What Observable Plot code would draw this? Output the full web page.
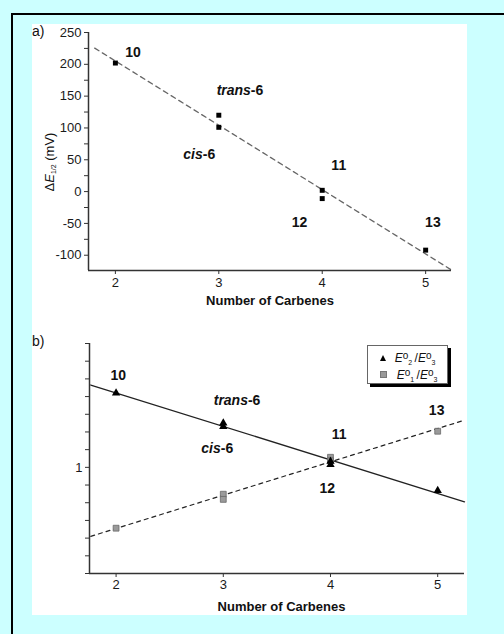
<!DOCTYPE html>
<html><head><meta charset="utf-8">
<script src="https://cdn.jsdelivr.net/npm/d3@7"></script>
<script src="https://cdn.jsdelivr.net/npm/@observablehq/plot@0.6"></script>
<style>
body{margin:0;}
#page{position:relative;width:504px;height:634px;background:#ccffff;overflow:hidden;font-family:"Liberation Sans",Arial,sans-serif;color:#111;}
#border{position:absolute;left:11px;top:13px;width:700px;height:800px;border-left:2px solid #000;border-top:2px solid #000;}
#panel{position:absolute;left:32px;top:24px;width:435px;height:591px;background:#fff;}
.plot{position:absolute;left:32px;}
.plot svg{font-family:"Liberation Sans",Arial,sans-serif !important;font-size:13px !important;}
.tag{position:absolute;font-size:14px;line-height:14px;}
#ylab{position:absolute;left:49.3px;top:161.7px;transform:translate(-50%,-50%) rotate(-90deg);white-space:nowrap;font-size:13px;}
#ylab sub{font-size:7px;vertical-align:-2px;}
#legend{position:absolute;left:366.7px;top:344.7px;width:79px;height:37px;background:#fff;border:1px solid #666;box-shadow:3px 3px 0 #000;font-size:12px;}
#legend .row{position:absolute;left:12px;height:14px;line-height:14px;white-space:nowrap;}
#legend sup{font-size:10px;vertical-align:3px;}
#legend sub{font-size:7px;vertical-align:-3px;}
.tri{display:inline-block;width:0;height:0;border-left:3.5px solid transparent;border-right:3.5px solid transparent;border-bottom:6px solid #000;margin-right:9px;vertical-align:1px;}
.sq{display:inline-block;width:5px;height:5px;background:#999;border:0.5px solid #777;margin-right:10px;vertical-align:1px;}
</style></head>
<body>
<div id="page">
  <div id="border"></div>
  <div id="panel"></div>
  <div class="tag" style="left:32px;top:24px;">a)</div>
  <div class="tag" style="left:32px;top:334px;">b)</div>
  <div id="ylab">Δ<i>E</i><sub>1/2</sub> (mV)</div>
  <div id="plotA" class="plot" style="top:24px;"></div>
  <div id="plotB" class="plot" style="top:320px;"></div>
  <div id="legend">
    <div class="row" style="top:3px;"><span class="tri"></span><i>E</i><sup>o</sup><sub>2</sub>&thinsp;/<i>E</i><sup>o</sup><sub>3</sub></div>
    <div class="row" style="top:20px;"><span class="sq"></span><i>E</i><sup>o</sup><sub>1</sub>&thinsp;/<i>E</i><sup>o</sup><sub>3</sub></div>
  </div>
</div>
<script>
// ---------- data ----------
const xTicks = [2, 3, 4, 5];
// panel a
const carbenesA = [2, 3, 3, 4, 4, 5];
const deltaE = [202, 120, 101, 2, -11, -92];
const yTicksA = [-100, -50, 0, 50, 100, 150, 200, 250];
const yMinorA = [-75, -25, 25, 75, 125, 175, 225];
const fitRangeA = [1.8, 5.25];
const numLabels = ["10", "11", "12", "13"];
const numLabelXA = [2.17, 4.16, 3.78, 5.07];
const numLabelYA = [219, 41, -48, -48];
const isoLabels = ["trans", "cis"];
const isoLabelXA = [3.31, 2.845];
const isoLabelYA = [159, 58];
// panel b
const carbenesB = [2, 3, 3, 4, 4, 5];
const ratio23 = [2.63, 1.78, 1.70, 1.08, 1.035, 0.74];
const ratio13 = [0.453, 0.705, 0.659, 1.14, 1.09, 1.60];
const yTicksB = [0.2512, 0.3162, 0.3981, 0.5012, 0.631, 0.7943, 1, 1.259, 1.585, 1.995, 2.512, 3.162, 3.981, 5.012];
const fitRangeB = [1.764, 5.25];
const numLabelXB = [2.02, 4.08, 3.97, 4.99];
const numLabelYB = [3.30, 1.53, 0.76, 2.10];
const isoLabelXB = [3.23, 2.976];
const isoLabelYB = [2.40, 1.27];

// ---------- helpers ----------
function fit(xs, ys) {
  const mx = d3.mean(xs), my = d3.mean(ys);
  const b = d3.sum(xs, (x, i) => (x - mx) * (ys[i] - my)) / d3.sum(xs, x => (x - mx) ** 2);
  return x => my + b * (x - mx);
}
const FONT = "Liberation Sans, Arial, sans-serif";
const axisStroke = "#333";
const fmt = d => String(d);

// ---------- panel a ----------
const ptsA = carbenesA.map((x, i) => ({x, y: deltaE[i]}));
const fA = fit(carbenesA, deltaE);
const lineA = fitRangeA.map(x => ({x, y: fA(x)}));
const numA = numLabels.map((t, i) => ({t, x: numLabelXA[i], y: numLabelYA[i]}));
const isoA = isoLabels.map((t, i) => ({t, x: isoLabelXA[i], y: isoLabelYA[i]}));
const domXA = [1.74, 5.25], domYA = [-124, 250];

const plotA = Plot.plot({
  width: 435, height: 290,
  marginLeft: 56, marginRight: 16, marginTop: 8, marginBottom: 44,
  x: {domain: domXA, label: null},
  y: {domain: domYA, label: null},
  style: {fontFamily: FONT, fontSize: "13px", color: "#1a1a1a", background: "transparent", overflow: "visible"},
  marks: [
    Plot.line(lineA, {x: "x", y: "y", stroke: "#666", strokeWidth: 1.3, strokeDasharray: "5,4"}),
    Plot.ruleX([domXA[0]], {stroke: axisStroke, strokeWidth: 1.5}),
    Plot.ruleY([domYA[0]], {stroke: axisStroke, strokeWidth: 1.5}),
    Plot.axisX(xTicks, {tickSize: 4, tickPadding: 3, label: null, stroke: axisStroke, tickFormat: fmt, fontSize: 13}),
    Plot.axisY(yTicksA, {tickSize: 4, tickPadding: 3, label: null, stroke: axisStroke, tickFormat: fmt, fontSize: 13}),
    Plot.axisY(yMinorA, {tickSize: 4, tickFormat: () => "", label: null, stroke: axisStroke}),
    Plot.dot(ptsA, {x: "x", y: "y", symbol: "square", r: 2.8, fill: "#000"}),
    Plot.text(numA, {x: "x", y: "y", text: "t", fontWeight: "bold", fontSize: 14, fill: "#111"}),
    Plot.text(isoA, {x: "x", y: "y", text: "t", fontWeight: "bold", fontStyle: "italic", fontSize: 14, textAnchor: "end", fill: "#111"}),
    Plot.text(isoA, {x: "x", y: "y", text: () => "-6", fontWeight: "bold", fontSize: 14, textAnchor: "start", fill: "#111"}),
    Plot.text(["Number of Carbenes"], {frameAnchor: "bottom", dy: 34, fontWeight: "bold", fontSize: 13, fill: "#111"})
  ]
});
document.getElementById("plotA").append(plotA);

// ---------- panel b ----------
const tri = carbenesB.map((x, i) => ({x, y: ratio23[i]}));
const sq = carbenesB.map((x, i) => ({x, y: ratio13[i]}));
const f23 = fit(carbenesB, ratio23.map(Math.log10));
const f13 = fit(carbenesB, ratio13.map(Math.log10));
const line23 = fitRangeB.map(x => ({x, y: 10 ** f23(x)}));
const line13 = fitRangeB.map(x => ({x, y: 10 ** f13(x)}));
const numB = numLabels.map((t, i) => ({t, x: numLabelXB[i], y: numLabelYB[i]}));
const isoB = isoLabels.map((t, i) => ({t, x: isoLabelXB[i], y: isoLabelYB[i]}));
const domXB = [1.752, 5.25], domYB = [yTicksB[0], yTicksB[yTicksB.length - 1]];

const plotB = Plot.plot({
  width: 435, height: 295,
  marginLeft: 57, marginRight: 3, marginTop: 23, marginBottom: 42,
  x: {domain: domXB, label: null},
  y: {type: "log", domain: domYB, label: null},
  style: {fontFamily: FONT, fontSize: "13px", color: "#1a1a1a", background: "transparent", overflow: "visible"},
  marks: [
    Plot.line(line13, {x: "x", y: "y", stroke: "#222", strokeWidth: 1.2, strokeDasharray: "4,4"}),
    Plot.line(line23, {x: "x", y: "y", stroke: "#222", strokeWidth: 1.3}),
    Plot.ruleX([domXB[0]], {stroke: axisStroke, strokeWidth: 1.5}),
    Plot.ruleY([domYB[0]], {stroke: axisStroke, strokeWidth: 1.5}),
    Plot.axisX(xTicks, {tickSize: 4, tickPadding: 2, label: null, stroke: axisStroke, tickFormat: fmt, fontSize: 13}),
    Plot.axisY(yTicksB, {tickSize: 4, tickPadding: 3, label: null, stroke: axisStroke, tickFormat: d => d === 1 ? "1" : "", fontSize: 13}),
    Plot.dot(sq, {x: "x", y: "y", symbol: "square", r: 3.3, fill: "#9a9a9a", stroke: "#6a6a6a", strokeWidth: 0.8}),
    Plot.dot(tri, {x: "x", y: "y", symbol: "triangle", r: 3.1, fill: "#000"}),
    Plot.text(numB, {x: "x", y: "y", text: "t", fontWeight: "bold", fontSize: 14, fill: "#111"}),
    Plot.text(isoB, {x: "x", y: "y", text: "t", fontWeight: "bold", fontStyle: "italic", fontSize: 14, textAnchor: "end", fill: "#111"}),
    Plot.text(isoB, {x: "x", y: "y", text: () => "-6", fontWeight: "bold", fontSize: 14, textAnchor: "start", fill: "#111"}),
    Plot.text(["Number of Carbenes"], {frameAnchor: "bottom", dy: 37, dx: 4.5, fontWeight: "bold", fontSize: 13, fill: "#111"})
  ]
});
document.getElementById("plotB").append(plotB);
</script>
</body></html>
